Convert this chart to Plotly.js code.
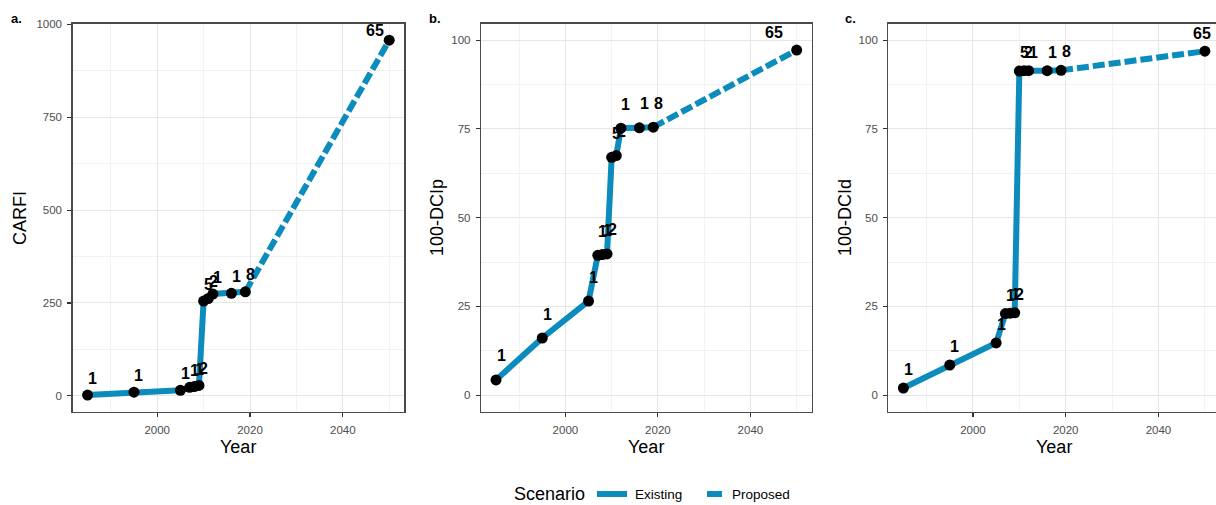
<!DOCTYPE html>
<html><head><meta charset="utf-8">
<script src="https://cdn.plot.ly/plotly-3.0.1.min.js"></script>
<style>html,body{margin:0;padding:0;background:#fff}#chart{width:1216px;height:505px}</style>
</head><body><div id="chart"></div>
<script>
// ---- data ----
const existingYears = [1985, 1995, 2005, 2007, 2008, 2009, 2010, 2011, 2012, 2016, 2019];
const proposedYears = [2019, 2050];
const pointLabels = ["1", "1", "1", "1", "1", "2", "5", "2", "1", "1", "8", "65"];

const carfiExisting = [2, 10, 15, 23, 25, 28, 255, 262, 274, 276, 280];
const carfiProposed = [280, 957];

const dcipExisting = [4.3, 16.1, 26.5, 39.4, 39.6, 39.8, 67.0, 67.5, 75.2, 75.3, 75.5];
const dcipProposed = [75.5, 97.2];

const dcidExisting = [2.0, 8.5, 14.7, 23.0, 23.1, 23.2, 91.3, 91.4, 91.4, 91.4, 91.5];
const dcidProposed = [91.5, 96.9];

const xMajorTicks = [2000, 2020, 2040];
const xMinorTicks = [1990, 2010, 2030, 2050];
const carfiTicks = [0, 250, 500, 750, 1000];
const carfiMinor = [125, 375, 625, 875];
const dciTicks = [0, 25, 50, 75, 100];
const dciMinor = [12.5, 37.5, 62.5, 87.5];

const panelNames = ["a.", "b.", "c."];
const yTitles = ["CARFI", "100-DCIp", "100-DCId"];
const xTitle = "Year";
const scenarioNames = ["Existing", "Proposed"];
const legendTitle = "Scenario";

// ---- style ----
const FONT = "Liberation Sans, Arial, Helvetica, sans-serif";
const LINE_COLOR = "#0c8cbc";
const W = 1216, H = 505;
const px = v => v / W;
const py = v => (H - v) / H;

const panels = [
  {ex: carfiExisting, pr: carfiProposed, xd: [px(72.5), px(404.3)], xr: [1981.75, 2053.25], yr: [-44, 1002],
   yt: carfiTicks, ym: carfiMinor, mirrorY: true,
   lab: {dx: 5, dy: 17}, last: {dx: -14, dy: 10}, titleX: 20, nameX: 16, right: 404.3},
  {ex: dcipExisting, pr: dcipProposed, xd: [px(481), px(811.7)], xr: [1981.75, 2053.25], yr: [-4.8, 104.7],
   yt: dciTicks, ym: dciMinor, mirrorY: true,
   lab: {dx: 5, dy: 24}, last: {dx: -23, dy: 18}, titleX: 437, nameX: 435, right: 811.7},
  {ex: dcidExisting, pr: dcidProposed, xd: [px(888.3), 1], xr: [1981.75, 2052.4], yr: [-4.8, 104.7],
   yt: dciTicks, ym: dciMinor, mirrorY: false,
   lab: {dx: 5, dy: 18.5}, last: {dx: -3, dy: 18}, titleX: 845, nameX: 850, right: 1220}
];
const yDomain = [py(412.2), py(23.5)];

const traces = [];
const annotations = [];
const shapes = [];
const layout = {
  width: W, height: H,
  margin: {l: 0, r: 0, t: 0, b: 0},
  paper_bgcolor: "#fff", plot_bgcolor: "#fff",
  font: {family: FONT, color: "#000"},
  hovermode: false,
  showlegend: false
};

panels.forEach((p, i) => {
  const s = i === 0 ? "" : String(i + 1);
  const xa = "x" + s, ya = "y" + s;
  traces.push({x: existingYears, y: p.ex, xaxis: xa, yaxis: ya, type: "scatter", mode: "lines", name: scenarioNames[0],
    line: {color: LINE_COLOR, width: 6}, hoverinfo: "skip"});
  traces.push({x: proposedYears, y: p.pr, xaxis: xa, yaxis: ya, type: "scatter", mode: "lines", name: scenarioNames[1],
    line: {color: LINE_COLOR, width: 6, dash: "12px,4px"}, hoverinfo: "skip"});
  const allX = existingYears.concat(proposedYears.slice(1));
  const allY = p.ex.concat(p.pr.slice(1));
  traces.push({x: allX, y: allY, xaxis: xa, yaxis: ya, type: "scatter", mode: "markers",
    marker: {color: "#000", size: 11}, hoverinfo: "skip"});

  allX.forEach((xv, k) => {
    const isLast = k === allX.length - 1;
    annotations.push({x: xv, y: allY[k], xref: xa, yref: ya, text: "<b>" + pointLabels[k] + "</b>",
      showarrow: false, xshift: isLast ? p.last.dx : p.lab.dx, yshift: isLast ? p.last.dy : p.lab.dy,
      font: {size: 16, color: "#000", family: FONT}, xanchor: "center", yanchor: "middle"});
  });

  const axCommon = {
    showline: true, linecolor: "#4a4a4a", linewidth: 1.2,
    ticks: "outside", ticklen: 4, tickcolor: "#333", tickwidth: 1.1,
    tickfont: {size: 11.5, color: "#4d4d4d", family: FONT},
    showgrid: true, gridcolor: "#e6e6e6", gridwidth: 1,
    zeroline: false, fixedrange: true, tickmode: "array", automargin: false
  };
  layout["xaxis" + s] = Object.assign({}, axCommon, {
    domain: p.xd, range: p.xr, anchor: ya, tickvals: xMajorTicks, mirror: true,
    ticklabelstandoff: 3,
    minor: {tickmode: "array", tickvals: xMinorTicks, showgrid: true, gridcolor: "#f2f2f2", gridwidth: 1, ticks: ""}
  });
  layout["yaxis" + s] = Object.assign({}, axCommon, {
    domain: yDomain, range: p.yr, anchor: xa, tickvals: p.yt, mirror: p.mirrorY,
    ticklabelstandoff: 3,
    minor: {tickmode: "array", tickvals: p.ym, showgrid: true, gridcolor: "#f2f2f2", gridwidth: 1, ticks: ""}
  });

  // axis titles
  annotations.push({x: (p.xd[0] + px(p.right)) / 2, y: py(447), xref: "paper", yref: "paper",
    text: xTitle, showarrow: false, font: {size: 18, color: "#000", family: FONT}, xanchor: "center", yanchor: "middle"});
  annotations.push({x: px(p.titleX), y: py(218), xref: "paper", yref: "paper", text: yTitles[i], textangle: -90,
    showarrow: false, font: {size: 18, color: "#000", family: FONT}, xanchor: "center", yanchor: "middle"});
  // panel tags
  annotations.push({x: px(p.nameX), y: py(18), xref: "paper", yref: "paper", text: "<b>" + panelNames[i] + "</b>",
    showarrow: false, font: {size: 13, color: "#000", family: FONT}, xanchor: "center", yanchor: "middle"});
});

// legend (drawn as paper-positioned keys and texts)
const LEG_Y = py(494);
annotations.push({x: px(512), y: LEG_Y, xref: "paper", yref: "paper", text: legendTitle, showarrow: false,
  font: {size: 18, color: "#000", family: FONT}, xanchor: "left", yanchor: "middle"});
shapes.push({type: "line", xref: "paper", yref: "paper", x0: px(597), x1: px(627), y0: LEG_Y, y1: LEG_Y,
  line: {color: LINE_COLOR, width: 6}});
annotations.push({x: px(633), y: LEG_Y, xref: "paper", yref: "paper", text: scenarioNames[0], showarrow: false,
  font: {size: 13.5, color: "#000", family: FONT}, xanchor: "left", yanchor: "middle"});
shapes.push({type: "line", xref: "paper", yref: "paper", x0: px(707), x1: px(722), y0: LEG_Y, y1: LEG_Y,
  line: {color: LINE_COLOR, width: 6}});
annotations.push({x: px(730), y: LEG_Y, xref: "paper", yref: "paper", text: scenarioNames[1], showarrow: false,
  font: {size: 13.5, color: "#000", family: FONT}, xanchor: "left", yanchor: "middle"});

layout.annotations = annotations;
layout.shapes = shapes;
Plotly.newPlot("chart", traces, layout, {displayModeBar: false, staticPlot: true});
</script></body></html>
